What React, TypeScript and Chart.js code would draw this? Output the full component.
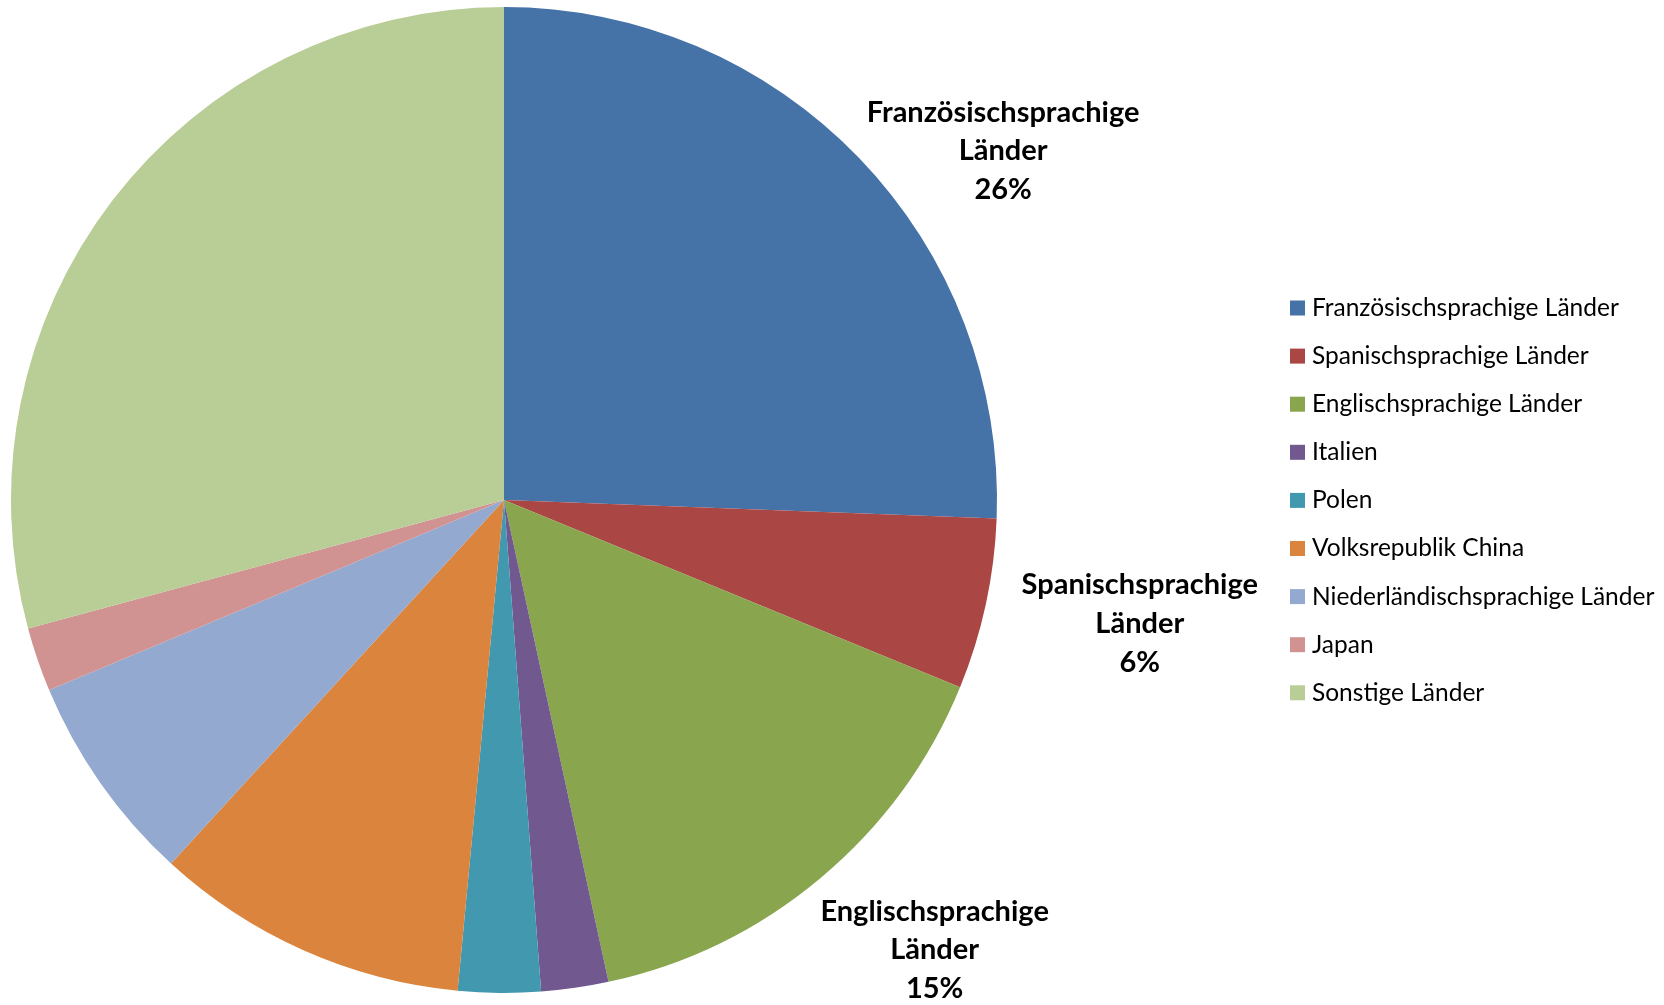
import React, { useEffect, useRef } from "react";
import { Chart, registerables } from "chart.js";

Chart.register(...registerables);

const categories = [
  "Französischsprachige Länder",
  "Spanischsprachige Länder",
  "Englischsprachige Länder",
  "Italien",
  "Polen",
  "Volksrepublik China",
  "Niederländischsprachige Länder",
  "Japan",
  "Sonstige Länder",
];
const shares = [25.6, 5.6, 15.4, 2.2, 2.7, 10.3, 6.9, 2.1, 29.2];
const colors = [
  "#4572A7",
  "#AA4643",
  "#89A54E",
  "#71588F",
  "#4198AF",
  "#DB843D",
  "#93A9CF",
  "#D19392",
  "#B9CD96",
];
const labelledSlices = [0, 1, 2];
const labelOffsets: Record<number, [number, number]> = {
  0: [144, -7],
  1: [154, 19],
  2: [114, 72],
};

const FONT = "Lato, 'Open Sans', sans-serif";

const labelPlugin = {
  id: "sliceLabels",
  afterDraw(chart: any) {
    const ctx = chart.ctx;
    const meta = chart.getDatasetMeta(0);
    const data = chart.data.datasets[0].data as number[];
    const total = data.reduce((a, b) => a + b, 0);
    ctx.save();
    ctx.fillStyle = "#000";
    ctx.font = `bold 29px ${FONT}`;
    ctx.textAlign = "center";
    ctx.textBaseline = "middle";
    labelledSlices.forEach((i) => {
      const arc = meta.data[i];
      const mid = (arc.startAngle + arc.endAngle) / 2;
      const ox = arc.x + Math.cos(mid) * arc.outerRadius;
      const oy = arc.y + Math.sin(mid) * arc.outerRadius;
      const [dx, dy] = labelOffsets[i];
      const cx = ox + dx;
      const cy = oy + dy;
      const name = chart.data.labels[i] as string;
      const parts = name.split(" ");
      const pct = Math.round((data[i] / total) * 100) + "%";
      const lines = [parts[0], parts.slice(1).join(" "), pct];
      const lh = 38.7;
      lines.forEach((ln, k) => {
        ctx.fillText(ln, cx, cy + (k - 1) * lh);
      });
    });
    ctx.restore();
  },
};

const legendPlugin = {
  id: "customLegend",
  afterDraw(chart: any) {
    const ctx = chart.ctx;
    ctx.save();
    ctx.font = `24.5px ${FONT}`;
    ctx.textAlign = "left";
    ctx.textBaseline = "middle";
    const labels = chart.data.labels as string[];
    labels.forEach((lab, i) => {
      const y = 308 + i * 48.1;
      ctx.fillStyle = colors[i];
      ctx.fillRect(1290, y - 7.5, 15, 15);
      ctx.fillStyle = "#000";
      ctx.fillText(lab, 1312, y);
    });
    ctx.restore();
  },
};

export default function App() {
  const ref = useRef<HTMLCanvasElement | null>(null);
  useEffect(() => {
    document.body.style.margin = "0";
    const canvas = ref.current!;
    const chart = new Chart(canvas, {
      type: "pie",
      data: {
        labels: categories,
        datasets: [
          {
            data: shares,
            backgroundColor: colors,
            borderWidth: 0,
          },
        ],
      },
      options: {
        animation: false,
        responsive: false,
        maintainAspectRatio: false,
        layout: { padding: { left: 11, top: 7, bottom: 12, right: 667 } },
        plugins: {
          legend: { display: false },
          tooltip: { enabled: false },
        },
      },
      plugins: [labelPlugin, legendPlugin],
    });
    return () => chart.destroy();
  }, []);
  return (
    <div style={{ width: 1664, height: 1005, background: "#fff" }}>
      <canvas ref={ref} width={1664} height={1005} style={{ display: "block" }} />
    </div>
  );
}
